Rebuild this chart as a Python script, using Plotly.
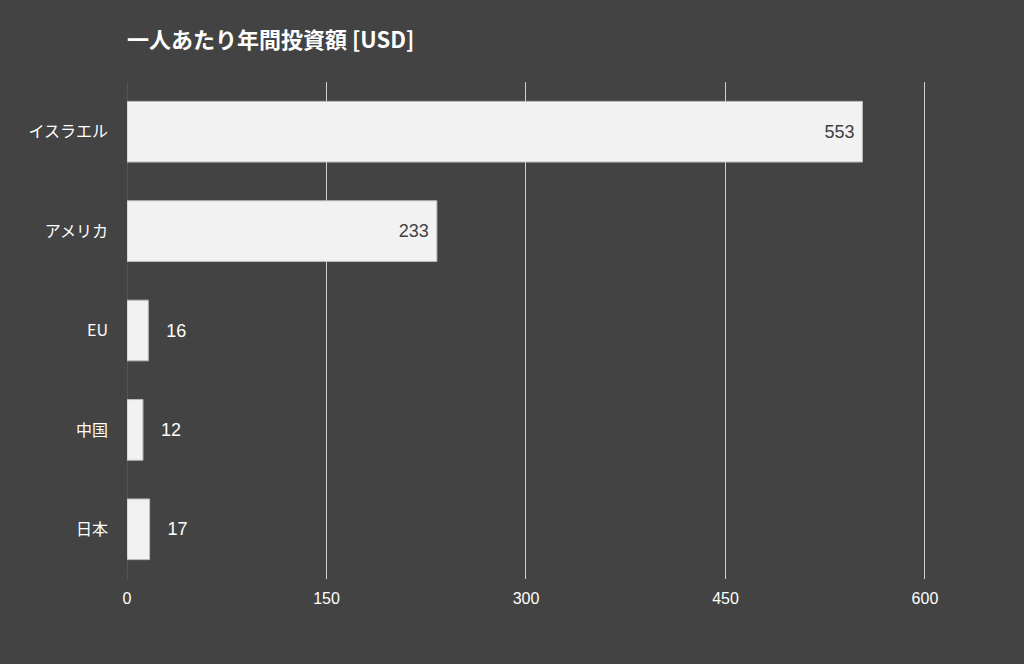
import plotly.graph_objects as go

categories = ["イスラエル", "アメリカ", "EU", "中国", "日本"]
values = [553, 233, 16, 12, 17]
tick_vals = [0, 150, 300, 450, 600]
title_text = "一人あたり年間投資額 [USD]"

FONT = "Liberation Sans, Arial, Noto Sans CJK JP, sans-serif"
BG = "#434343"

inside = [v > 100 for v in values]
texts = [str(v) + "\u00a0" if ins else "\u00a0\u00a0\u00a0" + str(v) for v, ins in zip(values, inside)]

fig = go.Figure()
fig.add_trace(go.Bar(
    y=categories,
    x=values,
    orientation="h",
    marker=dict(color="#f2f2f2", line=dict(color="#bdbdbd", width=1)),
    text=texts,
    textposition=["inside" if ins else "outside" for ins in inside],
    insidetextanchor="end",
    insidetextfont=dict(color="#404040", size=18, family=FONT),
    outsidetextfont=dict(color="#ffffff", size=18, family=FONT),
    cliponaxis=False,
    hoverinfo="skip",
))

fig.update_layout(
    width=1024, height=664,
    paper_bgcolor=BG, plot_bgcolor=BG,
    margin=dict(l=127, r=90, t=82, b=85),
    bargap=0.39,
    showlegend=False,
    font=dict(family=FONT, color="#ffffff", size=15),
    title=dict(text="<b>" + title_text + "</b>", x=127 / 1024, xanchor="left",
               y=1 - 40 / 664, yanchor="middle",
               font=dict(size=22, color="#ffffff", family="Noto Sans CJK JP, Liberation Sans, sans-serif")),
)
fig.update_xaxes(
    range=[0, 606.8], tickvals=tick_vals, ticktext=[str(t) for t in tick_vals],
    showgrid=True, gridcolor="#d0d0d0", gridwidth=1,
    zeroline=False, showline=False,
    tickfont=dict(size=16, color="#ffffff", family=FONT),
    ticks="", ticklabelstandoff=8,
)
fig.update_yaxes(
    autorange="reversed",
    showgrid=False, zeroline=False,
    showline=False,
    tickfont=dict(size=16, color="#ffffff", family="Noto Sans CJK JP, sans-serif"),
    ticks="", ticklabelstandoff=18,
)
fig.add_shape(type="line", xref="x", yref="paper", x0=0, x1=0, y0=0, y1=1,
              line=dict(color="#666666", width=1), layer="below")

fig.write_html("out.html",
               config={"displayModeBar": False},
               post_script="document.body.style.margin='0';document.body.style.background='#434343';")
